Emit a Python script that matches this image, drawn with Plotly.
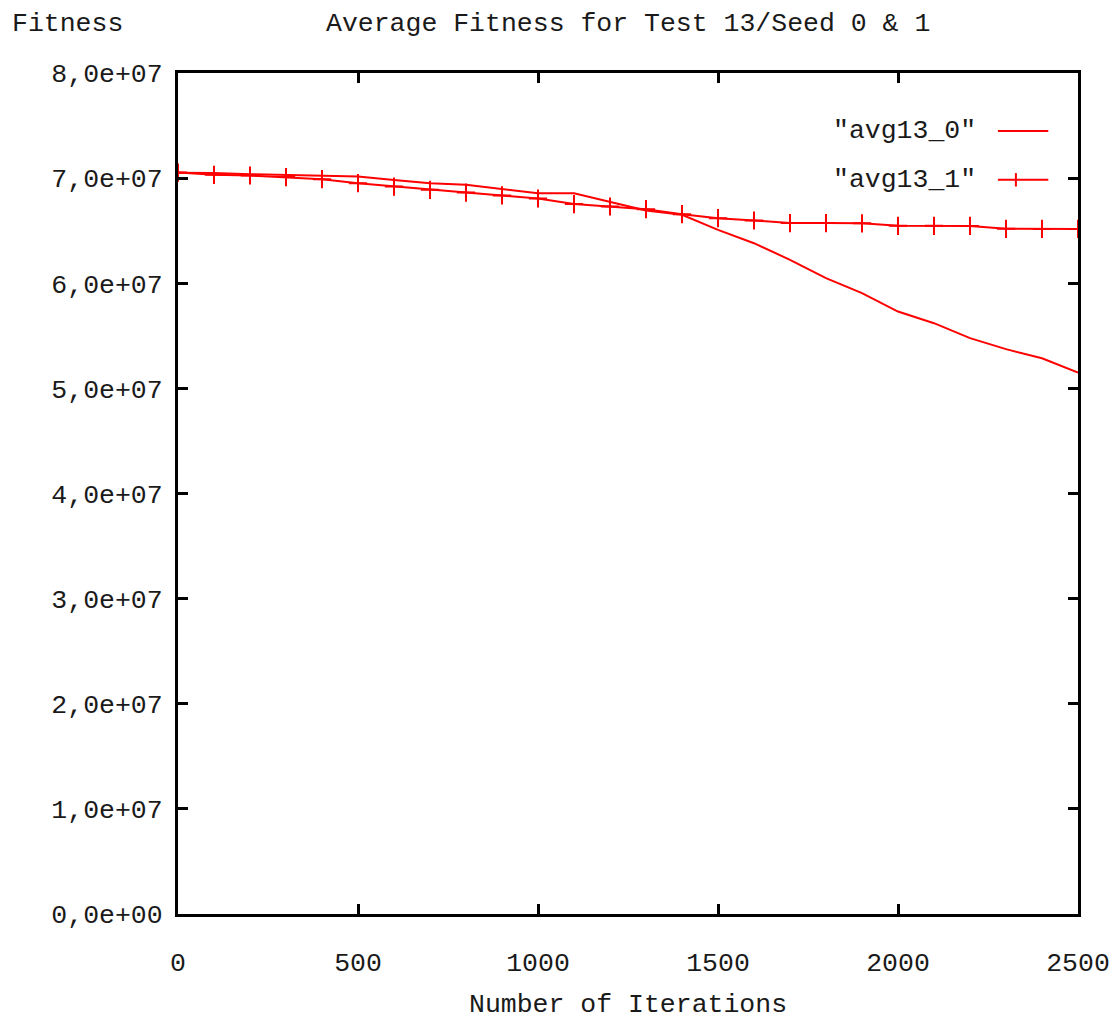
import plotly.graph_objects as go

# Iteration counts (sampled every 100 iterations)
iterations = [0, 100, 200, 300, 400, 500, 600, 700, 800, 900, 1000, 1100, 1200,
              1300, 1400, 1500, 1600, 1700, 1800, 1900, 2000, 2100, 2200, 2300, 2400, 2500]

# Average fitness, seed 0
avg13_0 = [7.050e7, 7.048e7, 7.038e7, 7.031e7, 7.022e7, 7.015e7, 6.983e7, 6.952e7, 6.936e7,
           6.898e7, 6.857e7, 6.855e7, 6.777e7, 6.692e7, 6.651e7, 6.508e7, 6.381e7, 6.223e7,
           6.048e7, 5.906e7, 5.731e7, 5.620e7, 5.478e7, 5.373e7, 5.287e7, 5.150e7]

# Average fitness, seed 1
avg13_1 = [7.053e7, 7.031e7, 7.025e7, 7.010e7, 6.990e7, 6.952e7, 6.920e7, 6.889e7, 6.863e7,
           6.835e7, 6.806e7, 6.753e7, 6.730e7, 6.705e7, 6.657e7, 6.619e7, 6.597e7, 6.572e7,
           6.572e7, 6.570e7, 6.546e7, 6.546e7, 6.545e7, 6.518e7, 6.517e7, 6.517e7]

x_ticks = [0, 500, 1000, 1500, 2000, 2500]
y_ticks = [0, 1e7, 2e7, 3e7, 4e7, 5e7, 6e7, 7e7, 8e7]
y_tick_labels = ["0,0e+00", "1,0e+07", "2,0e+07", "3,0e+07", "4,0e+07",
                 "5,0e+07", "6,0e+07", "7,0e+07", "8,0e+07"]

series_names = ['"avg13_0"', '"avg13_1"']

RED = "#ff0000"
FONT = "Liberation Mono"
FS = 26.5
TXT = "#1a1a1a"

fig = go.Figure()
fig.add_trace(go.Scatter(x=iterations, y=avg13_0, mode="lines", name=series_names[0],
                         line=dict(color=RED, width=2), showlegend=False))
fig.add_trace(go.Scatter(x=iterations, y=avg13_1, mode="lines+markers", name=series_names[1],
                         line=dict(color=RED, width=2),
                         marker=dict(symbol="cross-thin", size=13,
                                     line=dict(color=RED, width=2)),
                         showlegend=False))

axis_common = dict(showgrid=False, zeroline=False, showline=True, mirror="ticks",
                   linecolor="black", linewidth=3, ticks="inside", ticklen=10,
                   tickwidth=3, tickcolor="black", automargin=False,
                   ticklabeloverflow="allow",
                   tickfont=dict(family=FONT, size=FS, color=TXT))

fig.update_xaxes(range=[0, 2500], tickvals=x_ticks, ticklabelstandoff=22, **axis_common)
fig.update_yaxes(range=[0, 8e7], tickvals=y_ticks, ticktext=y_tick_labels,
                 ticklabelstandoff=7, **axis_common)

# Key: label on the left, line sample on the right
key_y = [0.931, 0.873]
for i, name in enumerate(series_names):
    fig.add_annotation(xref="paper", yref="paper", x=0.889, y=key_y[i], text=name,
                       showarrow=False, xanchor="right", yanchor="middle",
                       font=dict(family=FONT, size=FS, color=TXT))
    fig.add_shape(type="line", xref="paper", yref="paper", x0=0.911, x1=0.967,
                  y0=key_y[i], y1=key_y[i], line=dict(color=RED, width=2))
# cross on the second key sample
fig.add_shape(type="line", xref="paper", yref="paper", x0=0.931, x1=0.931,
              y0=key_y[1] - 0.008, y1=key_y[1] + 0.008, line=dict(color=RED, width=2))

fig.add_annotation(xref="paper", yref="paper", x=0.5, y=1.0, yshift=49,
                   text="Average Fitness for Test 13/Seed 0 & 1", showarrow=False,
                   xanchor="center", yanchor="middle",
                   font=dict(family=FONT, size=FS, color=TXT))
fig.add_annotation(xref="paper", yref="paper", x=-0.187, y=1.0, yshift=49,
                   text="Fitness", showarrow=False, xanchor="left", yanchor="middle",
                   font=dict(family=FONT, size=FS, color=TXT))
fig.add_annotation(xref="paper", yref="paper", x=0.5, y=0.0, yshift=-91,
                   text="Number of Iterations", showarrow=False,
                   xanchor="center", yanchor="middle",
                   font=dict(family=FONT, size=FS, color=TXT))

fig.update_layout(width=1112, height=1022, margin=dict(l=178, r=34, t=73, b=108),
                  paper_bgcolor="white", plot_bgcolor="white", showlegend=False)

fig.write_html("out.html")
